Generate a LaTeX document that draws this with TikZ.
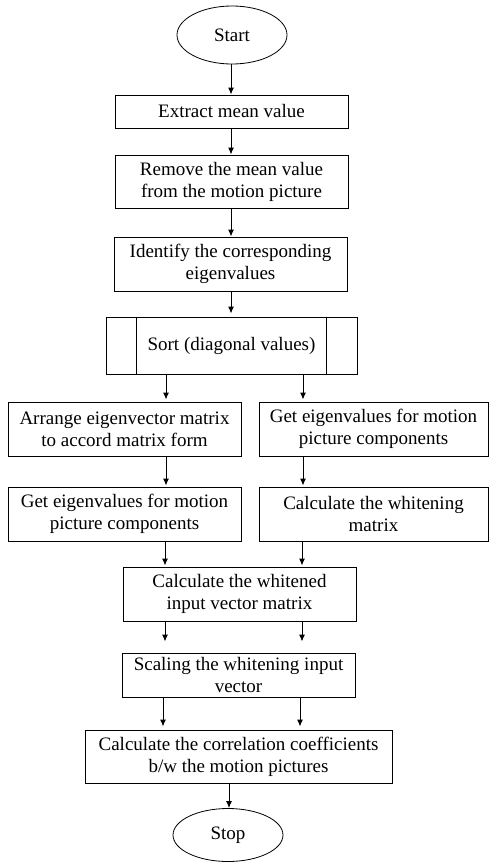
\documentclass[tikz,border=0pt]{standalone}
\usepackage{fontspec}
\setmainfont{Liberation Serif}
\usetikzlibrary{arrows.meta,shapes.geometric}
\begin{document}
\begin{tikzpicture}[x=1pt,y=-1pt,
  every node/.style={font=\fontsize{19}{22}\selectfont, align=center, inner sep=0pt},
  box/.style={draw, line width=1pt, rectangle},
  term/.style={draw, line width=0.8pt, ellipse},
  arr/.style={line width=1pt, -{Latex[length=7pt,width=6pt]}}]
\useasboundingbox (0,0) rectangle (489,862);
\node[term, minimum width=110, minimum height=58] (start) at (232,35) {Start};
\node[box, minimum width=233, minimum height=33] (extract) at (231.5,111.5) {Extract mean value};
\node[box, minimum width=233, minimum height=53] (remove) at (231.5,181.5) {Remove the mean value\\from the motion picture};
\node[box, minimum width=233, minimum height=54] (identify) at (230.5,264) {Identify the corresponding\\eigenvalues};
\node[box, minimum width=251, minimum height=57] (sort) at (231.5,345.5) {Sort (diagonal values)};
\draw[line width=1pt] ([xshift=31]sort.north west) -- ([xshift=31]sort.south west);
\draw[line width=1pt] ([xshift=-31]sort.north east) -- ([xshift=-31]sort.south east);
\node[box, minimum width=233, minimum height=54] (l1) at (124.5,429) {Arrange eigenvector matrix\\to accord matrix form};
\node[box, minimum width=229, minimum height=54] (r1) at (373.5,429) {Get eigenvalues for motion\\picture components};
\node[box, minimum width=233, minimum height=54] (l2) at (124.5,514) {Get eigenvalues for motion\\picture components};
\node[box, minimum width=229, minimum height=54] (r2) at (373.5,514) {Calculate the whitening\\matrix};
\node[box, minimum width=233, minimum height=54] (white) at (239.5,594) {Calculate the whitened\\input vector matrix};
\node[box, minimum width=233, minimum height=44] (scale) at (238.5,675) {Scaling the whitening input\\vector};
\node[box, minimum width=307, minimum height=53] (corr) at (238.5,756.5) {Calculate the correlation coefficients\\b/w the motion pictures};
\node[term, minimum width=110, minimum height=53] (stop) at (228,835) {Stop};
\coordinate (xa) at (231,0);
\coordinate (xl) at (166,0);
\coordinate (xr) at (303,0);
\coordinate (xl2) at (165,0);
\coordinate (xr2) at (302,0);
\coordinate (xl3) at (163,0);
\coordinate (xr3) at (300,0);
\coordinate (xs) at (229,0);
\draw[arr] (start.south -| xa) -- (xa |- extract.north);
\draw[arr] (extract.south -| xa) -- (xa |- remove.north);
\draw[arr] (remove.south -| xa) -- (xa |- identify.north);
\draw[arr, shorten >=3pt] (identify.south -| xa) -- (xa |- sort.north);
\draw[arr, shorten >=2pt] (sort.south -| xl) -- (xl |- l1.north);
\draw[arr, shorten >=2pt] (sort.south -| xr) -- (xr |- r1.north);
\draw[arr, shorten >=1pt] (l1.south -| xl) -- (xl |- l2.north);
\draw[arr, shorten >=1pt] (r1.south -| xr) -- (xr |- r2.north);
\draw[arr, shorten >=1pt] (l2.south -| xl2) -- (xl2 |- white.north);
\draw[arr, shorten >=1pt] (r2.south -| xr2) -- (xr2 |- white.north);
\draw[arr, shorten >=11pt] (white.south -| xl2) -- (xl2 |- scale.north);
\draw[arr, shorten >=11pt] (white.south -| xr2) -- (xr2 |- scale.north);
\draw[arr, shorten >=3pt] (scale.south -| xl3) -- (xl3 |- corr.north);
\draw[arr, shorten >=3pt] (scale.south -| xr3) -- (xr3 |- corr.north);
\draw[arr] (corr.south -| xs) -- (xs |- stop.north);
\end{tikzpicture}
\end{document}
